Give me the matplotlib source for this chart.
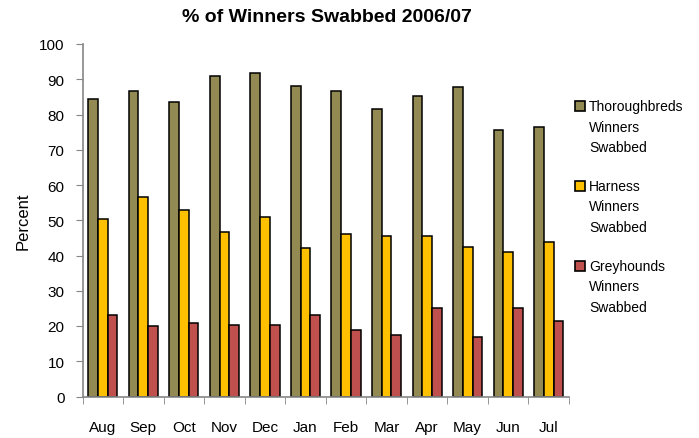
import matplotlib.pyplot as plt
from matplotlib.patches import Rectangle
import numpy as np

months = ['Aug', 'Sep', 'Oct', 'Nov', 'Dec', 'Jan', 'Feb', 'Mar', 'Apr', 'May', 'Jun', 'Jul']
thoroughbreds = [84.3, 86.7, 83.5, 91.0, 91.9, 88.1, 86.7, 81.6, 85.3, 87.7, 75.5, 76.4]
harness = [50.4, 56.6, 52.9, 46.7, 50.9, 42.0, 46.2, 45.4, 45.4, 42.5, 41.0, 43.9]
greyhounds = [23.1, 19.9, 20.8, 20.3, 20.3, 23.1, 19.0, 17.5, 25.0, 17.0, 25.0, 21.4]
series_names = ['Thoroughbreds', 'Harness', 'Greyhounds']
colors = ['#938953', '#ffc000', '#c0504d']

plt.rcParams['font.family'] = ['Liberation Sans', 'DejaVu Sans']

W, H = 699, 439
fig = plt.figure(figsize=(W / 100, H / 100), dpi=100)
ax = fig.add_axes([82.5 / W, 1 - 397.5 / H, (569 - 82.5) / W, (397.5 - 45) / H])

x = np.arange(len(months))
w = 0.24
for k, vals in enumerate([thoroughbreds, harness, greyhounds]):
    ax.bar(x + (k - 1) * w, vals, w, color=colors[k], edgecolor='black', linewidth=1.1)

ax.set_xlim(-0.5, len(months) - 0.5)
ax.set_ylim(0, 100)
ax.set_yticks(range(0, 101, 10))
ax.set_xticks(x)
ax.set_xticklabels(months, fontsize=11)
ax.set_xticks(np.arange(-0.5, len(months), 1), minor=True)
ax.tick_params(axis='x', which='major', length=0, pad=17)
ax.tick_params(axis='x', which='minor', length=5, color='#868686', direction='out')
ax.tick_params(axis='y', length=5, color='#868686', direction='out', labelsize=11, pad=8)

for s in ['top', 'right']:
    ax.spines[s].set_visible(False)
for s in ['left', 'bottom']:
    ax.spines[s].set_color('#868686')
    ax.spines[s].set_linewidth(1.2)

ax.set_ylabel('Percent', fontsize=12, labelpad=6)
fig.text(0.468, 1 - 18 / H, '% of Winners Swabbed 2006/07', fontsize=14,
         fontweight='bold', ha='center', va='center')

# legend, drawn by hand so the swatch sits on the first line
for k, name in enumerate(series_names):
    yc = 107 + 80 * k
    fig.patches.append(Rectangle((575 / W, 1 - (yc + 5) / H), 10 / W, 10 / H,
                                 transform=fig.transFigure, facecolor=colors[k],
                                 edgecolor='black', linewidth=1.2))
    for j, line in enumerate([name, 'Winners', 'Swabbed']):
        fig.text(589 / W, 1 - (yc + 20.5 * j) / H, line, fontsize=10,
                 ha='left', va='center')

plt.savefig('out.png')
